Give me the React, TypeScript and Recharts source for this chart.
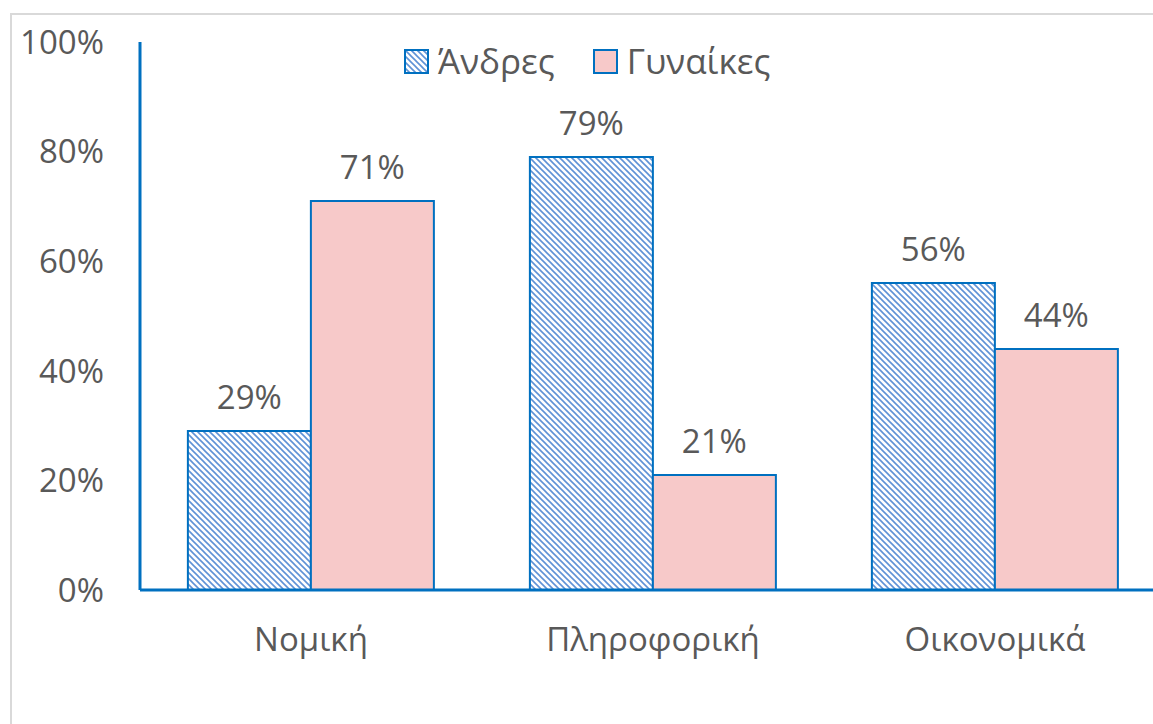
import { BarChart, Bar, XAxis, YAxis, Legend, LabelList } from 'recharts';

const categories = ['Νομική', 'Πληροφορική', 'Οικονομικά'];
const men = [29, 79, 56];
const women = [71, 21, 44];
const yTicks = [0, 20, 40, 60, 80, 100];

const data = categories.map((name, i) => ({ name, men: men[i], women: women[i] }));

const BLUE = '#0070C0';
const PINK = '#F7C9C9';
const TEXT = '#595959';
const FONT = '"Open Sans", sans-serif';
const FS = 33;

function Hatch({ id }: { id: string }) {
  return (
    <defs>
      <pattern id={id} patternUnits="userSpaceOnUse" width={6} height={6}>
        <rect width={6} height={6} fill="#fff" />
        <path d="M-1,-1 L7,7 M-1,5 L1,7 M5,-1 L7,1" stroke="#5F92D6" strokeWidth={1.6} />
      </pattern>
    </defs>
  );
}

function renderLegend(props: any) {
  const items = props.payload || [];
  return (
    <div style={{ display: 'flex', alignItems: 'center', fontFamily: FONT, fontSize: 35, color: TEXT, lineHeight: 1.2 }}>
      {items.map((it: any, i: number) => (
        <div key={i} style={{ display: 'flex', alignItems: 'center', marginRight: 38 }}>
          <svg width={25} height={25} style={{ marginRight: 9 }}>
            <Hatch id={`lg-hatch-${i}`} />
            <rect
              x={1}
              y={1}
              width={23}
              height={23}
              fill={it.dataKey === 'men' ? `url(#lg-hatch-${i})` : PINK}
              stroke={BLUE}
              strokeWidth={2}
            />
          </svg>
          <span>{it.value}</span>
        </div>
      ))}
    </div>
  );
}

export default function App() {
  return (
    <div style={{ position: 'fixed', left: 0, top: 0, width: 1153, height: 724, overflow: 'hidden', background: '#fff' }}>
      <div
        style={{
          position: 'absolute',
          left: 10,
          top: 13,
          width: 2000,
          height: 2000,
          borderTop: '2px solid #D9D9D9',
          borderLeft: '2px solid #D9D9D9',
        }}
      />
      <div style={{ position: 'absolute', left: 0, top: 0 }}>
        <BarChart
          width={1200}
          height={724}
          data={data}
          margin={{ top: 42, right: 34, bottom: 74, left: 0 }}
          barCategoryGap="14%"
          barGap={0}
        >
          <Hatch id="bar-hatch" />
          <XAxis
            dataKey="name"
            height={60}
            axisLine={{ stroke: BLUE, strokeWidth: 3 }}
            tickLine={false}
            tickSize={0}
            tickMargin={38}
            tick={{ fill: TEXT, fontSize: FS, fontFamily: FONT }}
          />
          <YAxis
            width={140}
            domain={[0, 100]}
            ticks={yTicks}
            tickFormatter={(v: number) => `${v}%`}
            axisLine={{ stroke: BLUE, strokeWidth: 3 }}
            tickLine={false}
            tickSize={0}
            tickMargin={36}
            tick={{ fill: TEXT, fontSize: FS, fontFamily: FONT }}
          />
          <Legend
            layout="horizontal"
            verticalAlign="middle"
            align="center"
            wrapperStyle={{ left: 404, top: 40, width: 'auto' }}
            content={renderLegend}
          />
          <Bar dataKey="men" name="Άνδρες" fill="url(#bar-hatch)" stroke={BLUE} strokeWidth={2} isAnimationActive={false}>
            <LabelList
              dataKey="men"
              position="top"
              offset={22}
              formatter={(v: any) => `${v}%`}
              style={{ fill: TEXT, fontSize: FS, fontFamily: FONT }}
            />
          </Bar>
          <Bar dataKey="women" name="Γυναίκες" fill={PINK} stroke={BLUE} strokeWidth={2} isAnimationActive={false}>
            <LabelList
              dataKey="women"
              position="top"
              offset={22}
              formatter={(v: any) => `${v}%`}
              style={{ fill: TEXT, fontSize: FS, fontFamily: FONT }}
            />
          </Bar>
        </BarChart>
      </div>
    </div>
  );
}
